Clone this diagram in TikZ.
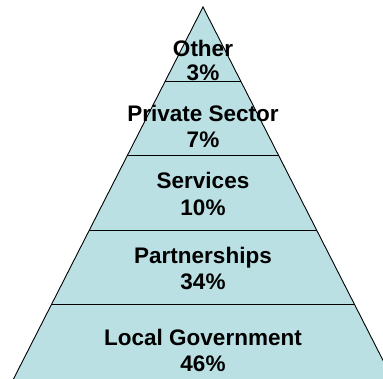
\documentclass[tikz,border=0pt]{standalone}
\usepackage{fontspec}
\setmainfont{Liberation Sans}
\usetikzlibrary{calc}
\definecolor{layerfill}{RGB}{187,224,227}
\begin{document}
\begin{tikzpicture}[x=1pt,y=-1pt,
  lbl/.style={font=\fontsize{22.5}{27}\selectfont\bfseries, anchor=base, inner sep=0pt, text=black},
  edge/.style={draw=black, line width=0.9pt}]
\useasboundingbox (0,0) rectangle (383,379);
\clip (0,0) rectangle (383,379);
\coordinate (A) at (203,7);
\coordinate (BL) at (13.5,379);
\coordinate (BR) at (392.5,379);
\fill[layerfill] (A) -- (BL) -- (BR) -- cycle;
\draw[edge] (BL) -- (A) -- (BR);
\foreach \t/\n in {0.2/a,0.4/b,0.6/c,0.8/d}{
  \coordinate (L\n) at ($(A)!\t!(BL)$);
  \coordinate (R\n) at ($(A)!\t!(BR)$);
  \draw[edge] (L\n) -- (R\n);
}
\node[lbl] (t1) at (203,57) {Other};
\node[lbl] (p1) at (203,81) {3\%};
\node[lbl] (t2) at (203,122) {Private Sector};
\node[lbl] (p2) at (203,148) {7\%};
\node[lbl] (t3) at (203,189) {Services};
\node[lbl] (p3) at (203,216) {10\%};
\node[lbl] (t4) at (203,264) {Partnerships};
\node[lbl] (p4) at (203,290) {34\%};
\node[lbl] (t5) at (203,346) {Local Government};
\node[lbl] (p5) at (203,372) {46\%};
\end{tikzpicture}
\end{document}
